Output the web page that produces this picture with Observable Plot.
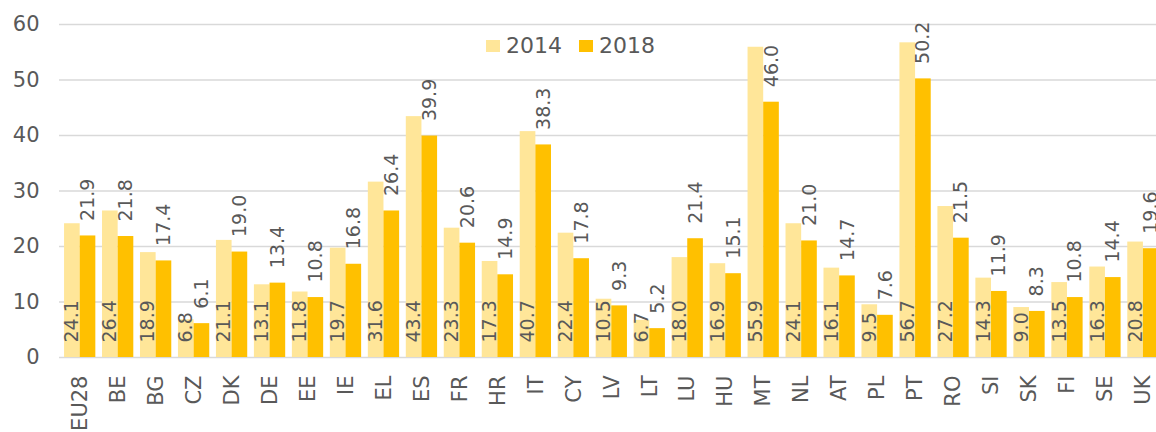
<!DOCTYPE html>
<html>
<head>
<meta charset="utf-8">
<script src="https://cdn.jsdelivr.net/npm/d3@7"></script>
<script src="https://cdn.jsdelivr.net/npm/@observablehq/plot@0.6"></script>
<style>
  html, body { margin: 0; padding: 0; background: #fff; overflow: hidden; }
  #wrap { position: relative; width: 1156px; height: 432px; }
  #legend { position: absolute; left: 486px; top: 33px; display: flex; align-items: center;
    font-family: "DejaVu Sans", Verdana, sans-serif; font-size: 22px; color: #595959; line-height: 26px; }
  #legend .sw { display: inline-block; width: 14px; height: 12px; margin-right: 6px; }
  #legend .item { display: flex; align-items: center; margin-right: 17px; }
</style>
</head>
<body>
<div id="wrap"></div>
<script>
const countries = ["EU28","BE","BG","CZ","DK","DE","EE","IE","EL","ES","FR","HR","IT","CY","LV","LT","LU","HU","MT","NL","AT","PL","PT","RO","SI","SK","FI","SE","UK"];
const v2014 = [24.1,26.4,18.9,6.8,21.1,13.1,11.8,19.7,31.6,43.4,23.3,17.3,40.7,22.4,10.5,6.7,18.0,16.9,55.9,24.1,16.1,9.5,56.7,27.2,14.3,9.0,13.5,16.3,20.8];
const v2018 = [21.9,21.8,17.4,6.1,19.0,13.4,10.8,16.8,26.4,39.9,20.6,14.9,38.3,17.8,9.3,5.2,21.4,15.1,46.0,21.0,14.7,7.6,50.2,21.5,11.9,8.3,10.8,14.4,19.6];
const years = ["2014", "2018"];
const colors = ["#FFE699", "#FFC000"];
const yTicks = [0, 10, 20, 30, 40, 50, 60];

const d14 = countries.map((c, i) => ({country: c, value: v2014[i]}));
const d18 = countries.map((c, i) => ({country: c, value: v2018[i]}));

const xRange = [60.7, 1161.9];
const pad = 0.176;
const step = (xRange[1] - xRange[0]) / countries.length;
const bw = step * (1 - pad);
const half = bw / 2;

const font = '"DejaVu Sans", Verdana, sans-serif';

const chart = Plot.plot({
  width: 1156,
  height: 432,
  marginLeft: 59,
  marginRight: 0,
  marginTop: 24,
  marginBottom: 75,
  style: {fontFamily: font, fontSize: "21px", color: "#595959", background: "#fff", overflow: "hidden"},
  x: {domain: countries, range: xRange, round: false, paddingInner: pad, paddingOuter: pad / 2, label: null,
      tickRotate: -90, tickSize: 0, tickPadding: 18},
  y: {domain: [0, 60], ticks: yTicks, label: null, tickSize: 0, tickPadding: 20},
  marks: [
    Plot.ruleY(yTicks, {stroke: "#D9D9D9", strokeWidth: 1.3}),
    Plot.barY(d14, {x: "country", y: "value", fill: colors[0], insetRight: half}),
    Plot.barY(d18, {x: "country", y: "value", fill: colors[1], insetLeft: half}),
    Plot.text(d14, {x: "country", y: () => 0, text: d => d.value.toFixed(1), rotate: -90,
      textAnchor: "start", dx: -half / 2, dy: -15, fill: "#595959", fontSize: 19}),
    Plot.text(d18, {x: "country", y: "value", text: d => d.value.toFixed(1), rotate: -90,
      textAnchor: "start", dx: half / 2, dy: -15, fill: "#595959", fontSize: 19})
  ]
});

const wrap = document.getElementById("wrap");
wrap.appendChild(chart);

const legend = document.createElement("div");
legend.id = "legend";
years.forEach((y, i) => {
  const item = document.createElement("span");
  item.className = "item";
  const sw = document.createElement("span");
  sw.className = "sw";
  sw.style.background = colors[i];
  item.appendChild(sw);
  item.appendChild(document.createTextNode(y));
  legend.appendChild(item);
});
wrap.appendChild(legend);
</script>
</body>
</html>
